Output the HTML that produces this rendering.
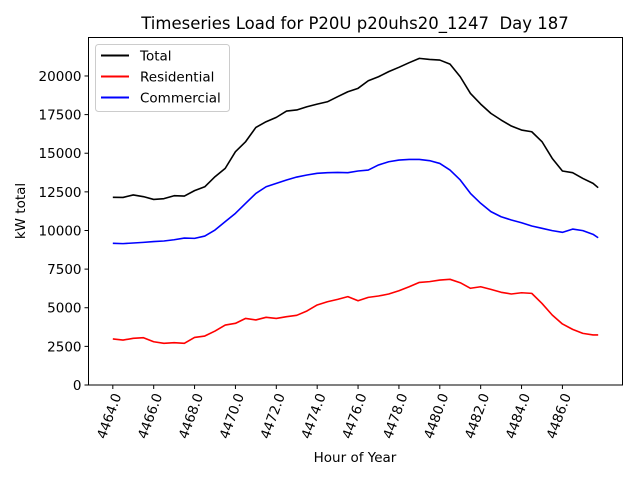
<!DOCTYPE html>
<html><head><meta charset="utf-8"><style>
html,body{margin:0;padding:0;background:#fff;}
svg{display:block;font-family:"DejaVu Sans","Liberation Sans",sans-serif;}
</style></head><body>
<svg id="chart" width="640" height="480" viewBox="0 0 640 480" xmlns="http://www.w3.org/2000/svg">
<rect width="640" height="480" fill="#fff"/>
<text x="355" y="29" font-size="16.5" text-anchor="middle">Timeseries Load for P20U p20uhs20_1247&#160; Day 187</text>
<g id="plot"></g>
<text x="355" y="462" font-size="13.5" text-anchor="middle">Hour of Year</text>
<text transform="translate(25,211) rotate(-90)" font-size="13.5" text-anchor="middle">kW total</text>
<g>
<rect x="95.5" y="44.5" width="134" height="67" rx="3" fill="#fff" fill-opacity="0.8" stroke="#ccc"/>
<line x1="101" y1="55.5" x2="129" y2="55.5" stroke="#000" stroke-width="2"/>
<text x="140" y="60.5" font-size="13.5">Total</text>
<line x1="101" y1="76.5" x2="129" y2="76.5" stroke="#f00" stroke-width="2"/>
<text x="140" y="81.5" font-size="13.5">Residential</text>
<line x1="101" y1="97.5" x2="129" y2="97.5" stroke="#00f" stroke-width="2"/>
<text x="140" y="102.5" font-size="13.5">Commercial</text>
</g>
</svg>
<script>
const hours = [4464,4464.5,4465,4465.5,4466,4466.5,4467,4467.5,4468,4468.5,4469,4469.5,4470,4470.5,4471,4471.5,4472,4472.5,4473,4473.5,4474,4474.5,4475,4475.5,4476,4476.5,4477,4477.5,4478,4478.5,4479,4479.5,4480,4480.5,4481,4481.5,4482,4482.5,4483,4483.5,4484,4484.5,4485,4485.5,4486,4486.5,4487,4487.5,4487.75];
const total = [12150,12140,12300,12190,12010,12060,12250,12230,12580,12830,13480,14020,15100,15750,16670,17040,17320,17730,17800,18010,18180,18330,18660,18980,19200,19690,19950,20280,20560,20860,21140,21070,21030,20770,19950,18870,18180,17580,17150,16760,16500,16390,15750,14670,13850,13740,13370,13050,12770];
const residential = [2980,2910,3020,3060,2800,2700,2740,2700,3080,3170,3490,3880,3990,4310,4210,4380,4310,4420,4510,4790,5180,5390,5540,5720,5450,5670,5760,5890,6100,6360,6640,6690,6790,6840,6620,6260,6360,6190,6000,5890,5970,5930,5280,4530,3950,3600,3340,3240,3240];
const commercial = [9170,9150,9190,9230,9280,9320,9400,9510,9490,9640,10030,10570,11110,11760,12400,12830,13050,13270,13460,13590,13700,13740,13760,13740,13850,13910,14240,14450,14560,14600,14600,14520,14340,13910,13270,12400,11760,11220,10890,10680,10500,10290,10140,9990,9880,10090,9990,9750,9530];
const xTicks = [4464,4466,4468,4470,4472,4474,4476,4478,4480,4482,4484,4486];
const yTicks = [0,2500,5000,7500,10000,12500,15000,17500,20000];

const L=88.5,R=622.5,T=37.5,B=385;
const xMin=4462.81,xMax=4488.94,yMin=0,yMax=22490;
const xs=v=>L+(v-xMin)/(xMax-xMin)*(R-L);
const ys=v=>B-(v-yMin)/(yMax-yMin)*(B-T);
const NS='http://www.w3.org/2000/svg';
const g=document.getElementById('plot');
function mk(tag,attrs){const e=document.createElementNS(NS,tag);for(const k in attrs)e.setAttribute(k,attrs[k]);g.appendChild(e);return e;}

function series(vals,color,name){
  const d=vals.map((v,i)=>(i?'L':'M')+xs(hours[i]).toFixed(2)+','+ys(v).toFixed(2)).join(' ');
  const p=mk('path',{d:d,fill:'none',stroke:color,'stroke-width':1.6,'stroke-linejoin':'round'});
  
  
}
series(total,'#000','total-line');
series(residential,'#f00','residential-line');
series(commercial,'#00f','commercial-line');

const frame=mk('rect',{x:L,y:T,width:R-L,height:B-T,fill:'none',stroke:'#000','stroke-width':1});



xTicks.forEach(t=>{
  const x=xs(t);
  const tk=mk('line',{x1:x,y1:B,x2:x,y2:B+4,stroke:'#000','stroke-width':1});
  
  
  const lb=mk('text',{transform:`translate(${x+5},${B+9}) rotate(-70)`,'font-size':13.5,'text-anchor':'end','dominant-baseline':'middle'});
  lb.textContent=t.toFixed(1);
  
  
});
yTicks.forEach(t=>{
  const y=ys(t);
  const tk=mk('line',{x1:L-4,y1:y,x2:L,y2:y,stroke:'#000','stroke-width':1});
  
  
  const lb=mk('text',{x:L-7,y:y+5,'font-size':13.5,'text-anchor':'end'});
  lb.textContent=String(t);
  
  
});
</script>
</body></html>
